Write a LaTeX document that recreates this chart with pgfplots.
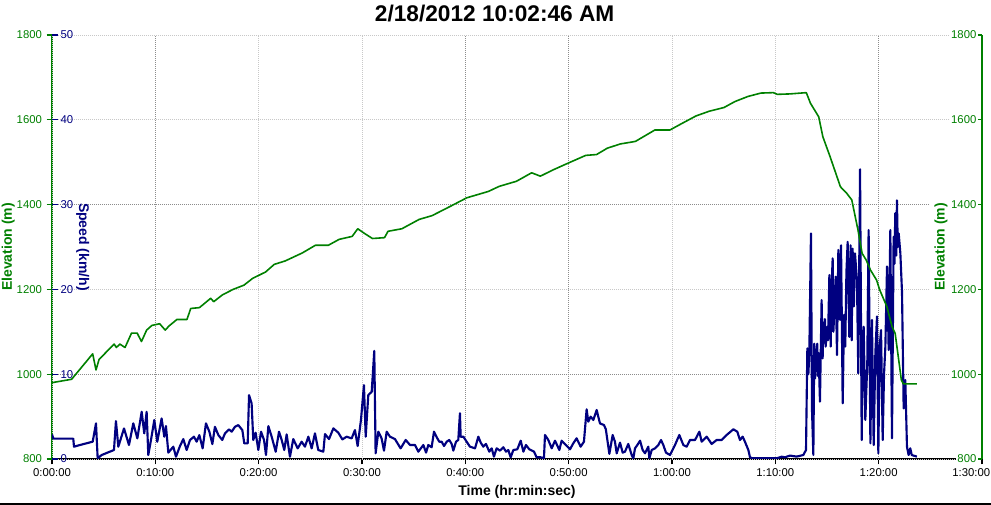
\documentclass[border=0pt]{standalone}
\usepackage{pgfplots}
\pgfplotsset{compat=1.18}
\usepackage{fontspec}
\setmainfont{Liberation Sans}

\definecolor{elev}{RGB}{0,128,0}
\definecolor{spd}{RGB}{0,0,128}
\definecolor{gridsolid}{RGB}{200,200,200}
\definecolor{griddot}{RGB}{140,140,140}

\pgfplotstableread{
t e
0 980
1.9 988
3.94 1048
4.26 1010
4.56 1035
6.02 1071
6.23 1063
6.57 1071
7.07 1063
7.70 1097
8.24 1097
8.66 1077
9.16 1104
9.67 1115
10.42 1119
10.96 1104
11.34 1114
12.09 1129
13.06 1129
13.43 1155
14.27 1157
15.36 1179
15.65 1171
16.49 1187
17.53 1200
18.58 1210
19.42 1226
20.67 1241
21.51 1259
22.56 1267
24.23 1286
25.49 1304
26.74 1304
27.79 1318
29.05 1325
29.59 1343
30.18 1333
31.01 1320
32.18 1322
32.52 1337
33.86 1343
35.53 1365
36.79 1374
38.88 1400
40.14 1416
42.23 1431
43.28 1443
44.95 1455
46.42 1475
47.26 1467
48.51 1482
49.97 1498
51.65 1516
52.7 1518
53.74 1533
55.0 1543
56.46 1549
57.3 1561
58.35 1576
59.81 1576
60.86 1590
62.32 1609
63.58 1620
65.04 1629
66.09 1643
67.35 1655
68.6 1663
69.8 1664
70.2 1660
71.4 1661
73.0 1664
73.4 1639
74.2 1607
74.6 1560
75.3 1513
76.3 1442
76.9 1427
77.4 1411
78.0 1340
78.4 1285
78.8 1269
79.2 1246
79.8 1222
80.1 1199
80.8 1159
81.3 1112
81.6 1096
82.2 986
82.4 977
83.7 977
}\elevtable

\pgfplotstableread{
t s
0 2.9
0.13 2.4
2.06 2.4
2.13 1.45
2.71 1.65
3.94 2.04
4.26 4.2
4.42 0.08
4.81 0.47
6.0 1.06
6.19 4.47
6.42 1.45
6.97 3.6
7.45 1.65
7.87 4.2
8.26 2.43
8.68 5.57
8.93 3.02
9.16 5.57
9.32 0.47
9.58 2.24
9.9 4.59
10.19 2.04
10.61 4.78
10.87 2.63
11.03 3.88
11.26 0.75
11.74 1.45
12.0 0.27
12.39 1.53
12.71 2.35
13.03 1.06
13.36 2.24
13.74 2.63
14.0 2.04
14.26 2.82
14.58 1.25
14.9 4.2
15.23 3.22
15.52 1.76
15.77 3.8
16.1 2.82
16.48 2.24
16.74 3.02
17.13 3.49
17.39 3.22
17.71 3.8
18.03 4.0
18.42 3.41
18.61 1.84
18.94 1.84
19.07 7.53
19.32 6.55
19.48 2.24
19.71 3.1
19.97 1.06
20.23 3.22
20.52 2.24
20.71 0.47
20.94 3.88
21.26 2.63
21.65 0.86
21.97 3.22
22.23 2.24
22.48 1.06
22.71 2.9
23.03 0.27
23.35 2.35
23.78 1.25
24.16 2.04
24.48 1.45
24.81 2.63
25.13 1.25
25.45 3.02
25.77 1.06
26.26 0.86
26.42 2.94
26.81 2.35
27.23 3.61
27.71 3.1
28.1 2.31
28.52 2.63
29.0 2.43
29.32 3.41
29.58 1.53
29.9 4.59
30.19 8.71
30.36 2.63
30.61 7.53
30.94 7.92
31.19 12.75
31.32 0.67
31.58 3.22
31.9 2.43
32.13 0.98
32.39 3.22
32.71 2.63
33.19 2.35
33.74 1.25
34.23 2.24
34.65 1.65
35.13 1.65
35.45 0.86
35.94 1.65
36.2 0.75
36.42 1.65
36.74 1.38
36.97 3.22
37.29 2.44
37.48 2.04
37.71 2.04
37.94 1.53
38.2 2.04
38.45 2.24
38.68 1.77
38.84 0.98
39.1 2.04
39.32 2.24
39.48 5.39
39.55 2.63
39.81 2.63
40.13 2.04
40.45 1.45
40.94 1.26
41.26 2.63
41.49 1.93
41.74 1.45
42.0 1.77
42.32 0.86
42.55 1.26
42.77 0.28
43.03 1.26
43.36 0.98
43.68 1.38
43.94 0.86
44.16 1.06
44.39 0.2
44.65 1.06
45.03 1.14
45.36 2.16
45.62 0.86
45.87 1.65
46.19 1.14
46.65 0.86
46.9 0.2
47.29 0.2
47.61 0.08
47.71 2.83
48.03 2.24
48.36 1.26
48.68 2.16
49.1 1.06
49.32 2.16
49.74 1.65
50.13 1.14
50.45 1.85
50.77 2.44
51.16 1.45
51.48 2.04
51.74 5.86
51.9 4.4
52.13 4.99
52.39 4.6
52.71 5.78
53.03 4.2
53.42 4.0
53.6 3.5
53.94 0.6
54.26 2.83
54.48 2.04
54.65 0.67
54.97 1.93
55.23 0.75
55.45 0.86
55.77 1.77
56.1 0.47
56.26 0.08
56.42 1.26
56.65 1.65
56.91 2.16
57.16 1.06
57.39 0.67
57.71 1.45
57.81 0.08
58.04 1.06
58.36 1.26
58.68 1.65
58.94 2.24
59.16 1.65
59.42 0.75
59.81 0.47
60.29 1.65
60.71 2.83
61.1 1.65
61.42 1.45
61.74 2.24
62.23 2.24
62.65 3.22
62.87 2.04
63.36 2.63
63.84 1.77
64.32 2.24
64.81 2.24
65.29 2.83
65.94 3.5
66.32 3.22
66.58 2.24
66.84 2.63
67.06 2.04
67.39 1.06
67.55 0.2
67.81 0.08
70.13 0.08
70.61 0.27
70.94 0.2
71.42 0.4
72.06 0.28
72.71 0.47
72.97 1.06
73.1 13.05
73.2 10.0
73.29 12.5
73.45 26.6
73.55 5.78
73.68 0.47
73.77 13.6
73.85 9.5
73.94 12.0
74.06 13.6
74.12 9.8
74.19 12.5
74.32 6.76
74.48 18.75
74.58 11.87
74.65 16.0
74.71 14.4
74.8 16.5
74.87 13.25
75.03 15.6
75.1 14.0
75.23 21.7
75.36 13.25
75.45 20.5
75.55 23.66
75.62 15.0
75.71 17.57
75.84 21.5
75.97 12.26
76.1 24.65
76.26 16.4
76.36 25.2
76.52 6.56
76.65 17.0
76.77 13.25
76.88 22.0
77.0 25.6
77.16 14.4
77.29 25.2
77.39 14.0
77.48 24.8
77.6 18.0
77.71 24.25
77.9 21.1
78.03 10.1
78.2 34.16
78.36 2.24
78.45 12.0
78.55 15.6
78.71 4.6
78.9 11.3
79.03 27.0
79.2 1.85
79.35 16.4
79.52 1.65
79.68 12.46
79.84 16.8
79.97 0.67
80.1 13.25
80.23 15.2
80.39 2.24
80.52 10.0
80.65 13.25
80.81 22.7
80.97 12.85
81.13 27.0
81.29 2.44
81.45 26.2
81.53 23.0
81.61 29.0
81.7 24.0
81.77 30.5
81.85 25.0
81.94 26.6
82.1 24.25
82.26 19.7
82.42 5.97
82.58 9.3
82.74 1.45
82.9 0.47
83.06 1.26
83.2 0.47
83.7 0.28
}\speedtable

\pgfplotsset{
  every axis/.append style={
    scale only axis, width=697.5pt, height=318pt, xmin=0, xmax=90,
    /pgf/number format/assume math mode=true,
    /pgf/number format/1000 sep={},
    tick label style={font=\fontsize{8.5}{10}\selectfont},
    label style={font=\bfseries\fontsize{10.5}{12}\selectfont},
  },
}

\begin{document}
\begin{tikzpicture}
% time axis, left elevation scale and the grid
\begin{axis}[
  clip=false,
  ymin=800, ymax=1800,
  axis x line*=bottom, axis y line*=left,
  x axis line style={black, line width=1.6pt, -},
  y axis line style={elev, line width=1.5pt, -},
  tick align=outside,
  x tick style={black, line width=0.8pt},
  y tick style={elev, line width=0.9pt},
  major tick length=4pt,
  xtick={10,40,50,80},
  xticklabels={0:10:00,0:40:00,0:50:00,1:20:00},
  extra x ticks={0,20,30,60,70,90},
  extra x tick labels={0:00:00,0:20:00,0:30:00,1:00:00,1:10:00,\makebox[0pt]{\hspace*{-16pt}1:30:00}},
  extra x tick style={grid=major, major grid style={gridsolid, line width=0.6pt}},
  xmajorgrids, ymajorgrids,
  major grid style={griddot, line width=0.6pt, dash pattern=on 0.75pt off 0.75pt},
  ytick={1000,1400},
  extra y ticks={800,1200,1600,1800},
  extra y tick style={grid=major, major grid style={gridsolid, line width=0.6pt}},
  yticklabel style={elev},
  xlabel={Time (hr:min:sec)},
  xlabel style={at={(axis description cs:0.5,-0.078)}, anchor=center},
  ylabel={Elevation (m)},
  ylabel style={elev, at={(axis description cs:-0.047,0.5)}, anchor=center},
]
\node[font=\bfseries\fontsize{17}{20}\selectfont, anchor=center]
  at (rel axis cs:0.476,1.05) {2/18/2012 10:02:46 AM};
\draw[black, line width=1pt] (rel axis cs:-0.0559,-0.106) -- (rel axis cs:1.0097,-0.106);
\coordinate (BL) at (rel axis cs:-0.0559,-0.1085);
\coordinate (TR) at (rel axis cs:1.0097,1.0825);
\end{axis}

% speed scale, inside the left edge
\begin{axis}[
  ymin=0, ymax=50,
  axis x line=none, axis y line*=left,
  y axis line style={draw=none},
  tick align=inside,
  ytick={0,10,20,30,40,50},
  y tick style={spd, line width=0.9pt},
  major tick length=4.5pt,
  yticklabel style={spd, anchor=west, xshift=3pt},
  ylabel={Speed (km/h)},
  ylabel style={spd, at={(axis description cs:0.033,0.5)}, anchor=center, rotate=180},
]
\addplot[spd, line width=1.6pt, line join=round] table[x=t, y=s] {\speedtable};
\end{axis}

% right elevation scale and the elevation curve
\begin{axis}[
  ymin=800, ymax=1800,
  axis x line=none, axis y line*=right,
  y axis line style={elev, line width=1.5pt, -},
  tick align=inside,
  ytick={800,1000,...,1800},
  y tick style={elev, line width=0.9pt},
  major tick length=4pt,
  yticklabel style={elev, anchor=east, xshift=-3pt, fill=white, inner xsep=1pt},
  ylabel={Elevation (m)},
  ylabel style={elev, at={(axis description cs:0.956,0.5)}, anchor=center, fill=white},
]
\addplot[elev, line width=1.2pt, line join=round] table[x=t, y=e] {\elevtable};
\end{axis}
\pgfresetboundingbox
\path[use as bounding box] (BL) rectangle (TR);
\end{tikzpicture}
\end{document}
